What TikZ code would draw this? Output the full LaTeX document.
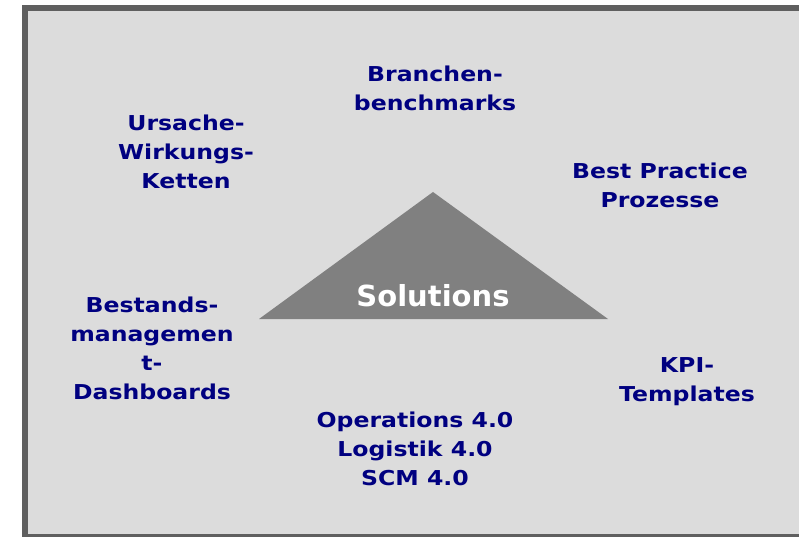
\documentclass[tikz,border=0pt]{standalone}
\usepackage{fontspec}
\setmainfont{DejaVu Sans}
\newfontfamily\widefont[FakeStretch=1.15]{DejaVu Sans}
\usepackage{xcolor}
\usetikzlibrary{positioning}
\definecolor{navytext}{RGB}{0,0,128}
\definecolor{panelgray}{RGB}{220,220,220}
\definecolor{framegray}{RGB}{95,95,95}
\definecolor{trigray}{RGB}{128,128,128}
\begin{document}
\begin{tikzpicture}
		[x=1pt,y=-1pt,
		every node/.style={align=center,inner sep=0pt,text=navytext,
			font=\widefont\bfseries\fontsize{20.5}{29}\selectfont},
		solution/.style={text=white,font=\bfseries\fontsize{29}{34}\selectfont}]
		\useasboundingbox (0,0) rectangle (799,537);
		\clip (0,0) rectangle (799,537);
		% panel and triangle
		\draw[line width=6pt,draw=framegray,fill=panelgray] (25,8) rectangle (830,537);
		\fill[trigray] (433,192) -- (608,319) -- (259,319) -- cycle;
		\node[solution,anchor=base] (sol) at (433,306) {Solutions};
		% labels round the triangle
		\node (branchen) at (435,88) {Branchen-\\benchmarks};
		\node (ursache) at (186,151.5) {Ursache-\\Wirkungs-\\Ketten};
		\node (bestpractice) at (660,185.5) {Best Practice\\Prozesse};
		\node (bestand) at (152,348) {Bestands-\\managemen\\t-\\Dashboards};
		\node (kpi) at (687,382) {KPI-\\Templates};
		\node (operations) at (415,448.5) {Operations 4.0\\Logistik 4.0\\SCM 4.0};
\end{tikzpicture}
\end{document}
